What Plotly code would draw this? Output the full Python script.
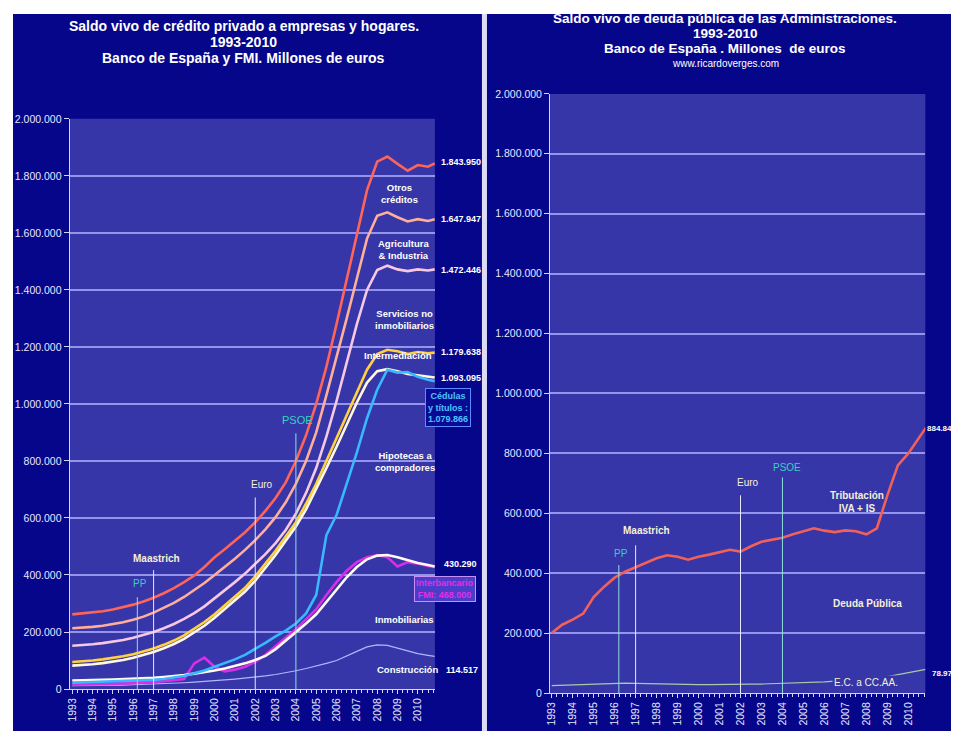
import plotly.graph_objects as go

W, H = 959, 731
FONT = "Liberation Sans, Arial, sans-serif"

# ---------------- DATA (miles de millones de euros -> etiquetas en millones) ----------------
x_dates = [1993.0, 1993.5, 1994.0, 1994.5, 1995.0, 1995.5, 1996.0, 1996.5, 1997.0, 1997.5,
           1998.0, 1998.5, 1999.0, 1999.5, 2000.0, 2000.5, 2001.0, 2001.5, 2002.0, 2002.5,
           2003.0, 2003.5, 2004.0, 2004.5, 2005.0, 2005.5, 2006.0, 2006.5, 2007.0, 2007.5,
           2008.0, 2008.5, 2009.0, 2009.5, 2010.0, 2010.5, 2010.83]

otros_creditos = [262, 265, 268, 273, 279, 287, 296, 307, 320, 336, 354, 375, 398, 428, 462, 490, 520, 550,
                  585, 625, 670, 725, 800, 890, 1000, 1130, 1280, 1440, 1600, 1750, 1850, 1868, 1842,
                  1818, 1838, 1832, 1844]
agricultura_industria = [213, 215, 218, 222, 227, 234, 243, 254, 268, 284, 302, 323, 346, 372, 400, 428, 457,
                         488, 522, 560, 603, 655, 720, 800, 900, 1030, 1160, 1300, 1440, 1580, 1660, 1672,
                         1655, 1640, 1648, 1642, 1648]
servicios_no_inmob = [152, 154, 157, 161, 166, 172, 180, 189, 200, 213, 228, 246, 266, 290, 318, 345, 375, 405,
                      438, 473, 512, 558, 615, 688, 775, 885, 1010, 1145, 1280, 1400, 1470, 1485, 1472, 1466,
                      1472, 1468, 1472]
intermediacion = [95, 97, 100, 104, 109, 115, 122, 131, 142, 155, 170, 188, 210, 235, 262, 292, 322, 355, 395,
                  440, 485, 535, 585, 650, 720, 800, 880, 960, 1040, 1120, 1175, 1190, 1185, 1175, 1182, 1178,
                  1180]
hipotecas_compradores = [82, 84, 87, 91, 96, 102, 110, 119, 130, 143, 158, 176, 198, 222, 250, 280, 310, 342,
                         380, 425, 470, 520, 570, 630, 700, 775, 850, 930, 1005, 1075, 1115, 1122, 1115, 1105,
                         1100, 1095, 1093]
cedulas_titulos = [22, 23, 24, 25, 26, 27, 28, 30, 32, 35, 40, 46, 55, 65, 78, 90, 104, 120, 140, 162, 185, 205,
                   230, 265, 330, 540, 610, 720, 830, 950, 1050, 1120, 1110, 1112, 1095, 1085, 1080]
interbancario_fmi = [15, 15, 16, 17, 18, 19, 20, 22, 24, 27, 30, 35, 90, 110, 78, 62, 68, 78, 95, 120, 150, 180,
                     210, 245, 280, 330, 375, 415, 445, 462, 470, 462, 430, 445, 440, 432, 428]
inmobiliarias = [30, 30, 31, 32, 33, 34, 35, 37, 39, 42, 45, 49, 54, 59, 65, 72, 80, 90, 102, 116, 140, 170, 198,
                 230, 262, 305, 350, 392, 428, 455, 468, 470, 462, 452, 442, 435, 430]
construccion = [12, 12, 13, 13, 14, 14, 15, 16, 17, 18, 20, 22, 24, 26, 29, 32, 35, 38, 42, 46, 51, 57, 64, 72,
                80, 90, 100, 115, 132, 148, 155, 153, 143, 132, 124, 118, 114.5]

deuda_publica = [200, 228, 245, 265, 320, 355, 385, 405, 420, 435, 450, 460, 455, 445, 455, 462, 470, 478, 472,
                 490, 505, 512, 518, 530, 540, 550, 542, 537, 543, 540, 530, 550, 660, 760, 800, 850, 885]
ec_ccaa = [25, 26, 28, 30, 31, 32, 33, 33, 32, 31, 30, 29, 28, 28, 28, 28, 29, 29, 29, 30, 30, 31, 31, 32, 33,
           35, 37, 40, 42, 44, 46, 50, 55, 62, 68, 74, 79]

year_ticks = [1993, 1994, 1995, 1996, 1997, 1998, 1999, 2000, 2001, 2002, 2003, 2004, 2005, 2006, 2007,
              2008, 2009, 2010]
year_labels = ["1993", "1994", "1995", "1996", "1997", "1998", "1999", "2000", "2001", "2002", "2003",
               "2004", "2005", "2006", "2007", "2008", "2009", "2010"]
y_ticks = [0, 200, 400, 600, 800, 1000, 1200, 1400, 1600, 1800, 2000]
y_labels = ["0", "200.000", "400.000", "600.000", "800.000", "1.000.000", "1.200.000", "1.400.000",
            "1.600.000", "1.800.000", "2.000.000"]

event_names = ["PP", "Maastrich", "Euro", "PSOE"]
event_years = [1996.2, 1997.0, 2002.0, 2004.0]
event_tops_left = [322, 417, 672, 897]
event_tops_right = [427, 493, 660, 720]


# ---------------- helpers: map target screen pixels to figure paper coords ----------------
def px(x):
    return ((x - 13.4) / 0.994) / W


def py(y):
    return 1 - ((y - 13.0) / 0.985) / H


def cpx(x):
    return min(max(px(x), 0), 1)


def cpy(y):
    return min(max(py(y), 0), 1)


NAVY = "#06068a"
PLOTBG = "#3636a8"
GRID = "#9494ec"
TICKC = "#e6e6ff"

fig = go.Figure()

left_series = [
    ("Otros créditos", otros_creditos, "#ff6458", 2.6),
    ("Agricultura & Industria", agricultura_industria, "#ffae9a", 2.6),
    ("Servicios no inmobiliarios", servicios_no_inmob, "#f6c8e4", 2.6),
    ("Intermediación", intermediacion, "#ffd040", 2.6),
    ("Hipotecas a compradores", hipotecas_compradores, "#fff8dc", 2.6),
    ("Construcción", construccion, "#b4b4ff", 1.2),
    ("Interbancario FMI", interbancario_fmi, "#d82ee8", 2.6),
    ("Inmobiliarias", inmobiliarias, "#fffaf0", 2.6),
    ("Cédulas y títulos", cedulas_titulos, "#38b8ff", 2.6),
]
for name, vals, col, w in left_series:
    fig.add_trace(go.Scatter(x=x_dates, y=vals, mode="lines", name=name,
                             line=dict(color=col, width=w), xaxis="x", yaxis="y"))

fig.add_trace(go.Scatter(x=x_dates, y=ec_ccaa, mode="lines", name="E.C. a CC.AA.",
                         line=dict(color="#a8c8a8", width=1.2), xaxis="x2", yaxis="y2"))
fig.add_trace(go.Scatter(x=x_dates, y=deuda_publica, mode="lines", name="Deuda Pública",
                         line=dict(color="#f2605a", width=2.6), xaxis="x2", yaxis="y2"))

# ---------------- background shapes ----------------
shapes = [
    dict(type="rect", xref="paper", yref="paper", x0=cpx(10), x1=cpx(482), y0=0, y1=cpy(10),
         fillcolor=NAVY, line=dict(width=0), layer="below"),
    dict(type="rect", xref="paper", yref="paper", x0=cpx(482), x1=cpx(487), y0=0, y1=cpy(10),
         fillcolor="#dcdcf4", line=dict(width=0), layer="below"),
    dict(type="rect", xref="paper", yref="paper", x0=cpx(487), x1=1, y0=0, y1=cpy(10),
         fillcolor=NAVY, line=dict(width=0), layer="below"),
    dict(type="rect", xref="x domain", yref="y domain", x0=0, x1=1, y0=0, y1=1,
         fillcolor=PLOTBG, line=dict(width=0), layer="below"),
    dict(type="rect", xref="x2 domain", yref="y2 domain", x0=0, x1=1, y0=0, y1=1,
         fillcolor=PLOTBG, line=dict(width=0), layer="below"),
]
ev_colors = ["#8fe0d8", "#e8e8ff", "#e8e8ff", "#8fe0d8"]
for yr, top, c in zip(event_years, event_tops_left, ev_colors):
    shapes.append(dict(type="line", xref="x", yref="y", x0=yr, x1=yr, y0=0, y1=top,
                       line=dict(color=c, width=1)))
for yr, top, c in zip(event_years, event_tops_right, ev_colors):
    shapes.append(dict(type="line", xref="x2", yref="y2", x0=yr, x1=yr, y0=0, y1=top,
                       line=dict(color=c, width=1)))


# ---------------- annotations ----------------
def ann(text, x, y, size=9, color="white", bold=True, xanchor="center", **kw):
    d = dict(text=(f"<b>{text}</b>" if bold else text), x=px(x), y=py(y), xref="paper", yref="paper",
             showarrow=False, font=dict(size=size, color=color, family=FONT),
             xanchor=xanchor, yanchor="middle")
    d.update(kw)
    return d


anns = [
    ann("Saldo vivo de crédito privado a empresas y hogares.", 244, 25, size=14),
    ann("1993-2010", 244, 41, size=14),
    ann("Banco de España y FMI. Millones de euros", 244, 57, size=14),
    ann("Saldo vivo de deuda pública de las Administraciones.", 725, 18, size=13.5),
    ann("1993-2010", 725, 33, size=13.5),
    ann("Banco de España . Millones  de euros", 725, 48, size=13.5),
    ann("www.ricardoverges.com", 725, 63, size=10, bold=False),
    # left labels
    ann("Otros<br>créditos", 400, 193, size=9.5),
    ann("Agricultura<br>& Industria", 404, 249, size=9.5),
    ann("Servicios no<br>inmobiliarios", 405, 319, size=9.5),
    ann("Intermediación", 398, 355, size=9.5),
    ann("Hipotecas a<br>compradores", 405, 461, size=9.5),
    ann("Inmobiliarias", 405, 619, size=9.5),
    ann("Construcción", 408, 669, size=9.5),
    ann("1.843.950", 439, 161, size=9, xanchor="left"),
    ann("1.647.947", 439, 218, size=9, xanchor="left"),
    ann("1.472.446", 439, 269, size=9, xanchor="left"),
    ann("1.179.638", 439, 351, size=9, xanchor="left"),
    ann("1.093.095", 439, 378, size=9, xanchor="left"),
    ann("430.290", 442, 564, size=9, xanchor="left"),
    ann("114.517", 444, 670, size=9, xanchor="left"),
    ann("Cédulas<br>y títulos :<br>1.079.866", 448, 407, size=9, color="#48c4ff",
        bgcolor="#0a0a92", bordercolor="#5a8cff", borderwidth=1, borderpad=2),
    ann("Interbancario<br>FMI: 468.000", 445, 589, size=9, color="#e22ee8",
        bgcolor="#4c3cc8", bordercolor="#c890ff", borderwidth=1, borderpad=1),
    # left events
    ann("PP", 140, 583, size=10, color="#38d0c0", bold=False),
    ann("Maastrich", 157, 558, size=10, color="#f4f0d8"),
    ann("Euro", 262, 484, size=10, color="#f4f0d8", bold=False),
    ann("PSOE", 298, 420, size=11, color="#38d0c0", bold=False),
    # right events
    ann("PP", 621, 553, size=10, color="#38d0c0", bold=False),
    ann("Maastrich", 646, 530, size=10, color="#f4f0d8"),
    ann("Euro", 748, 482, size=10, color="#f4f0d8", bold=False),
    ann("PSOE", 787, 467, size=10, color="#38d0c0", bold=False),
    # right labels
    ann("Tributación<br>IVA + IS", 857, 502, size=10, color="#f4f0d8"),
    ann("Deuda Pública", 867, 603, size=10, color="#f4f0d8"),
    ann("E.C. a CC.AA.", 866, 682, size=10, color="#f4f0d8", bold=False, bgcolor=PLOTBG),
    ann("884.845", 925, 428, size=8, xanchor="left"),
    ann("78.976", 930, 673, size=8, xanchor="left"),
]

line_common = dict(showline=True, linecolor="#d4d4ff", linewidth=1, zeroline=False,
                   ticks="outside", tickcolor="#d4d4ff")
ytick_font = dict(size=10.5, color=TICKC, family=FONT)
xtick_font = dict(size=10.5, color=TICKC, family=FONT)
minor_x = dict(dtick=0.25, ticks="outside", ticklen=3, tickcolor="#d4d4ff", showgrid=False)

fig.update_layout(
    width=W, height=H,
    margin=dict(l=0, r=0, t=0, b=0),
    paper_bgcolor="#ffffff",
    plot_bgcolor="rgba(0,0,0,0)",
    showlegend=False,
    font=dict(family=FONT, color="white"),
    shapes=shapes,
    annotations=anns,
    xaxis=dict(domain=[px(70), px(435)], range=[1992.87, 2010.84], anchor="y",
               tickvals=year_ticks, ticktext=year_labels, tickangle=-90, showgrid=False,
               ticklen=4, minor=minor_x, tickfont=xtick_font, **line_common),
    yaxis=dict(domain=[py(689), py(118)], range=[0, 2000], anchor="x",
               tickvals=y_ticks, ticktext=y_labels, showgrid=True, gridcolor=GRID, gridwidth=1.5,
               ticklen=5, tickfont=ytick_font, **line_common),
    xaxis2=dict(domain=[px(550), px(925)], range=[1992.92, 2010.81], anchor="y2",
                tickvals=year_ticks, ticktext=year_labels, tickangle=-90, showgrid=False,
                ticklen=4, minor=minor_x, tickfont=xtick_font, **line_common),
    yaxis2=dict(domain=[py(693), py(93)], range=[0, 2000], anchor="x2",
                tickvals=y_ticks, ticktext=y_labels, showgrid=True, gridcolor=GRID, gridwidth=1.5,
                ticklen=5, tickfont=ytick_font, **line_common),
)

fig.write_html("out.html")
